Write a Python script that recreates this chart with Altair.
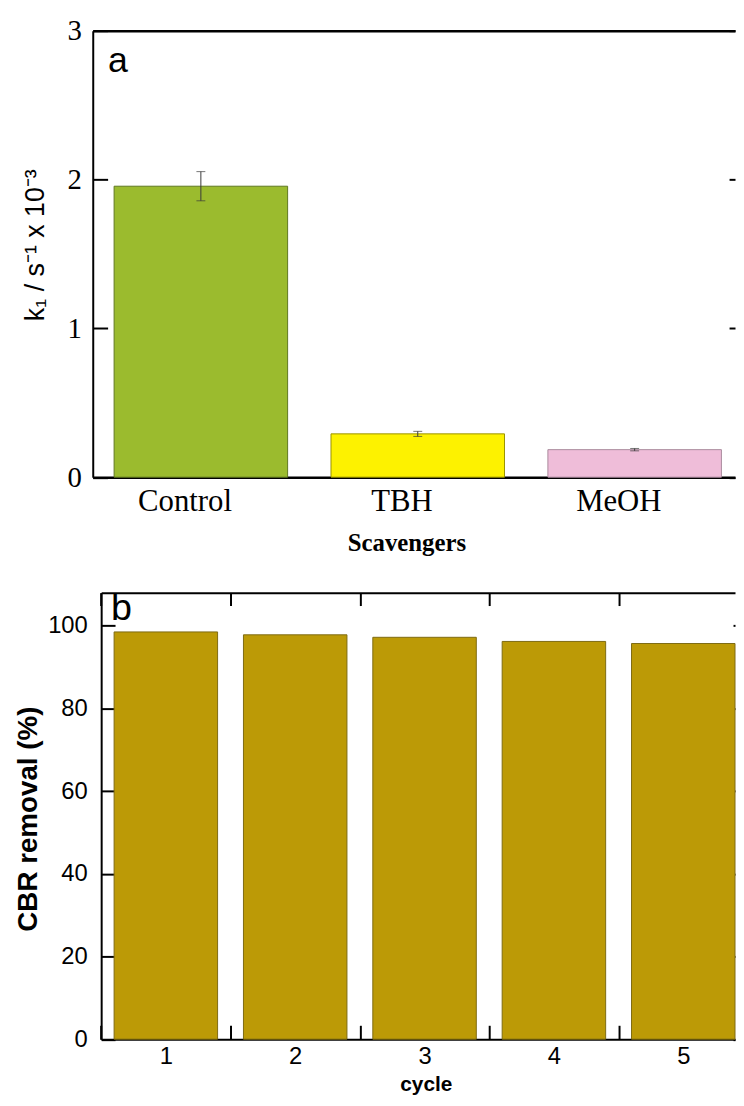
import altair as alt
import pandas as pd

# ---------------- data: panel a ----------------
scavengers = ["Control", "TBH", "MeOH"]
k1_values = [1.955, 0.291, 0.185]
k1_errors = [0.098, 0.017, 0.008]
scav_fill = ["#9BBB2E", "#FDF200", "#EFBDD9"]
scav_edge = ["#5F7720", "#9A9300", "#A98A9C"]
k1_ticks = [0, 1, 2, 3]

# ---------------- data: panel b ----------------
cycles = ["1", "2", "3", "4", "5"]
removal = [98.5, 97.8, 97.2, 96.2, 95.7]
removal_ticks = [0, 20, 40, 60, 80, 100]

panel_labels = ["a", "b"]

# plot-area sizes (both panels share the same left edge)
W = 648.0
HA, HB = 450.5, 450.5
B_START = 8.5                       # panel b's left axis sits a little to the right
STEP_B = (W - B_START) / (5 - 0.2 + 2 * 0.05)

df_a = pd.DataFrame({
    "scavenger": scavengers,
    "k1": k1_values,
    "lo": [v - e for v, e in zip(k1_values, k1_errors)],
    "hi": [v + e for v, e in zip(k1_values, k1_errors)],
})
df_b = pd.DataFrame({"cycle": cycles, "removal": removal})

SERIF = "Liberation Serif"
SANS = "Liberation Sans"

# ---------------- panel a ----------------
xa_scale = alt.Scale(domain=scavengers, paddingInner=0.2, paddingOuter=0.0806, align=0.611)
ya_scale = alt.Scale(domain=[0, 3], nice=False)

bars_a = alt.Chart(df_a).mark_bar(strokeWidth=1).encode(
    x=alt.X("scavenger:N", sort=scavengers, scale=xa_scale, axis=alt.Axis(
        orient="bottom", title="Scavengers", labelAngle=0, ticks=False, domain=True,
        domainColor="black", domainWidth=2.5, labelFont=SERIF, labelFontSize=31,
        labelColor="black", labelPadding=10, labelBaseline="top", labelOffset=-16,
        titleFont=SERIF, titleFontSize=25, titleFontWeight="bold", titleColor="black",
        titleX=316.5, titleY=74, titleBaseline="alphabetic")),
    y=alt.Y("k1:Q", scale=ya_scale, axis=alt.Axis(
        orient="right", offset=-W, values=k1_ticks, grid=False, tickSize=15, tickWidth=2,
        tickColor="black", domain=True, domainColor="black", domainWidth=2,
        labelAlign="right", labelBaseline="middle", labelPadding=-26.5, labelFont=SERIF,
        labelFontSize=29, labelColor="black",
        title="k₁ / s⁻¹ x 10⁻³", titleAngle=270, titleX=-57.5, titleY=216,
        titleAlign="center", titleBaseline="middle", titleFont=SANS, titleFontSize=27,
        titleFontWeight="normal", titleColor="black")),
    color=alt.Color("scavenger:N", scale=alt.Scale(domain=scavengers, range=scav_fill), legend=None),
    stroke=alt.Stroke("scavenger:N", scale=alt.Scale(domain=scavengers, range=scav_edge), legend=None),
)

err_a = alt.Chart(df_a).mark_rule(color="#3a3a3a", strokeWidth=1).encode(
    x=alt.X("scavenger:N", sort=scavengers, scale=xa_scale, axis=alt.Axis(
        orient="top", labels=False, ticks=False, title=None, domain=True,
        domainColor="black", domainWidth=2.5)),
    y=alt.Y("lo:Q", scale=ya_scale, axis=alt.Axis(
        orient="left", offset=-W, values=k1_ticks, labels=False, title=None, grid=False,
        tickSize=6, tickWidth=2, tickColor="black", domain=False)),
    y2="hi:Q",
)
caps_lo = alt.Chart(df_a).mark_tick(color="#3a3a3a", thickness=1, size=9).encode(
    x=alt.X("scavenger:N", sort=scavengers, scale=xa_scale, axis=None),
    y=alt.Y("lo:Q", scale=ya_scale, axis=None),
)
caps_hi = alt.Chart(df_a).mark_tick(color="#3a3a3a", thickness=1, size=9).encode(
    x=alt.X("scavenger:N", sort=scavengers, scale=xa_scale, axis=None),
    y=alt.Y("hi:Q", scale=ya_scale, axis=None),
)
label_a = alt.Chart(pd.DataFrame({"t": [panel_labels[0]]})).mark_text(
    font=SANS, fontSize=36, align="left", baseline="alphabetic", color="black"
).encode(x=alt.value(15.5), y=alt.value(42), text="t:N")

panel_a = alt.layer(bars_a, err_a, caps_lo, caps_hi, label_a).resolve_axis(
    x="independent", y="independent").properties(width=W, height=HA)

# ---------------- panel b ----------------
xb_scale = alt.Scale(domain=cycles, range=[B_START, W], paddingInner=0.2,
                     paddingOuter=0.05, align=1)
yb_scale = alt.Scale(domain=[0, 108], nice=False)

bars_b = alt.Chart(df_b).mark_bar(color="#BC9A06", stroke="#7d6a12", strokeWidth=1).encode(
    x=alt.X("cycle:N", sort=cycles, scale=xb_scale, axis=alt.Axis(
        orient="top", offset=-HB, bandPosition=0.5, tickOffset=-STEP_B / 2,
        labelOffset=STEP_B / 2, tickSize=14, tickWidth=2, tickColor="black", domain=True,
        domainColor="black", domainWidth=2, labelAngle=0, labelPadding=-31.5,
        labelBaseline="middle", labelFont=SANS, labelFontSize=24, labelColor="black",
        title="cycle", titleX=336, titleY=52, titleBaseline="alphabetic", titleFont=SANS,
        titleFontSize=21, titleFontWeight="bold", titleColor="black")),
    y=alt.Y("removal:Q", scale=yb_scale, axis=alt.Axis(
        orient="right", offset=B_START - W, values=removal_ticks, grid=False, tickSize=14,
        tickWidth=2, tickColor="black", domain=True, domainColor="black", domainWidth=2,
        labelAlign="right", labelBaseline="middle", labelPadding=-28, labelFont=SANS,
        labelFontSize=24, labelColor="black",
        title="CBR removal (%)", titleAngle=270, titleX=-73.5, titleY=228,
        titleAlign="center", titleBaseline="middle", titleFont=SANS, titleFontSize=28,
        titleFontWeight="bold", titleColor="black")),
)

frame_b = alt.Chart(df_b).mark_bar(opacity=0).encode(
    x=alt.X("cycle:N", sort=cycles, scale=xb_scale, axis=alt.Axis(
        orient="bottom", offset=-HB, bandPosition=0.5, tickOffset=-STEP_B / 2,
        tickSize=13, tickWidth=2, tickColor="black", labels=False, title=None,
        domain=True, domainColor="black", domainWidth=2)),
    y=alt.Y("removal:Q", scale=yb_scale, axis=alt.Axis(
        orient="left", offset=-W, values=removal_ticks, labels=False, title=None,
        grid=False, tickSize=2, tickWidth=2, tickColor="black", domain=False)),
)

label_b = alt.Chart(pd.DataFrame({"t": [panel_labels[1]]})).mark_text(
    font=SANS, fontSize=38, align="left", baseline="alphabetic", color="black"
).encode(x=alt.value(18.5), y=alt.value(28), text="t:N")

panel_b = alt.layer(bars_b, frame_b, label_b).resolve_axis(
    x="independent", y="independent").properties(width=W, height=HB)

chart = alt.vconcat(panel_a, panel_b, spacing=35).properties(
    padding={"left": 6.5, "top": 4, "right": 0, "bottom": 0}
).configure_view(stroke=None)

chart.save("out.html", embed_options={"renderer": "svg", "actions": False})
